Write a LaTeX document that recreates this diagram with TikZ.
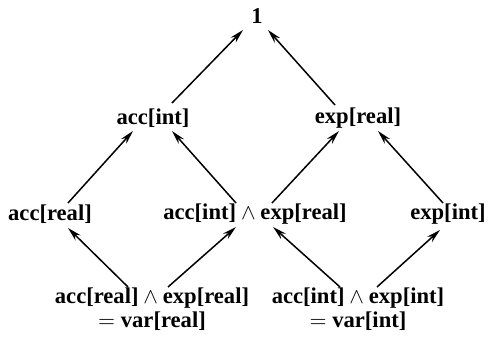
\documentclass[tikz,border=0pt]{standalone}
\usepackage{fontspec}
\setmainfont{Liberation Serif}
\usetikzlibrary{arrows.meta, calc, positioning}

\begin{document}
\begin{tikzpicture}[
		x=0.5pt, y=0.5pt,
		lat/.style={inner sep=0pt, font=\fontsize{11.3}{12.4}\selectfont\bfseries},
		meet/.style={lat, align=center, anchor=north},
		up/.style={->, >={Stealth[length=7pt, width=3.6pt]}, line width=0.75pt}
		]
		\useasboundingbox (0,0) rectangle (497,337);
		\node [lat] (one) at (257,321) {1};
		\node [lat] (accint) at (153,219) {acc[int]};
		\node [lat] (expreal) at (358,219) {exp[real]};
		\node [lat] (accreal) at (50,123) {acc[real]};
		\node [lat] (mid) at (255,123) {acc[int]${}\wedge{}$exp[real]};
		\node [lat] (expint) at (448,123) {exp[int]};
		\node [meet] (varreal) at (152,50) {acc[real]${}\wedge{}$exp[real]\\$=$ var[real]};
		\node [meet] (varint) at (358,50) {acc[int]${}\wedge{}$exp[int]\\$=$ var[int]};
		
		% upper diamond
		\draw [up] ($(accint)+(19,15)$) -- ($(one)+(-14,-14)$);
		\draw [up] ($(expreal)+(-23,13)$) -- ($(one)+(11,-14)$);
		\draw [up] ($(accreal)+(18,11)$) -- ($(accint)+(-20,-13)$);
		\draw [up] ($(mid)+(-19,11)$) -- ($(accint)+(19,-13)$);
		\draw [up] ($(mid)+(17,11)$) -- ($(expreal)+(-19,-13)$);
		\draw [up] ($(expint)+(-5,11)$) -- ($(expreal)+(20,-13)$);
		
		% from the bottom
		\draw [up] ($(varreal.north)+(-24,0)$) -- ($(accreal)+(18,-14)$);
		\draw [up] ($(varreal.north)+(16,0)$) -- ($(mid)+(-19,-13)$);
		\draw [up] ($(varint.north)+(-18,0)$) -- ($(mid)+(18,-13)$);
		\draw [up] ($(varint.north)+(19,0)$) -- ($(expint)+(-8,-16)$);
	\end{tikzpicture}
\end{document}
